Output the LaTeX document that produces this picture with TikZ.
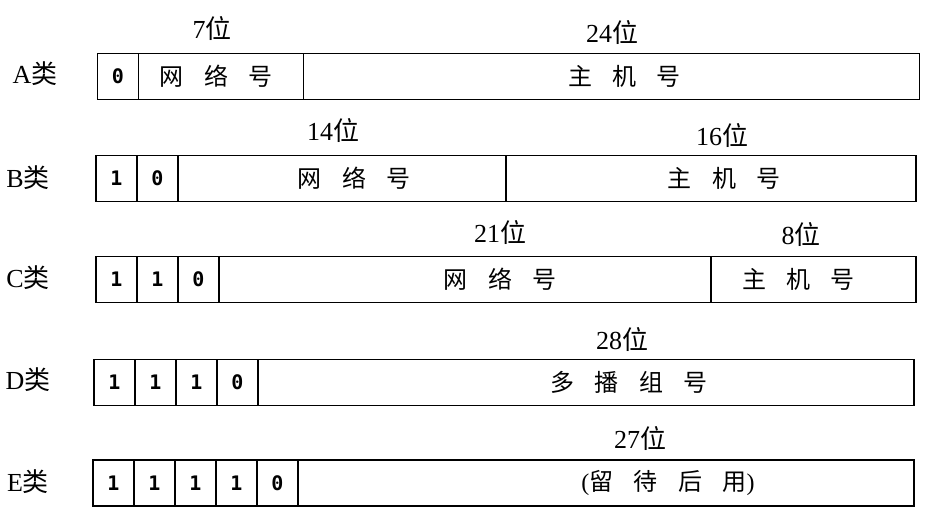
\documentclass[tikz,border=0pt]{standalone}
\usepackage{fontspec}
\setmainfont{Liberation Serif}
\newfontfamily\cjk{Noto Sans CJK SC}
\newfontfamily\bitmono{DejaVu Sans Mono}
\usetikzlibrary{positioning}

\newcommand{\zh}[1]{{\cjk #1}}
\newcommand{\gap}{\hspace{0.85em}}

\begin{document}
\begin{tikzpicture}[x=1pt,y=-1pt,node distance=0pt,
    cell/.style={draw, line width=1.9pt, minimum width=41pt, minimum height=46pt,
      inner sep=0pt, outer sep=0pt, font=\bitmono\bfseries\fontsize{20}{20}\selectfont},
    field/.style={cell, minimum width=#1},
    cls/.style={font=\fontsize{26}{26}\selectfont},
    bits/.style={font=\fontsize{26}{26}\selectfont},
    part/.style={font=\fontsize{24}{24}\selectfont}]
  \useasboundingbox (0,0) rectangle (928,528);

  % class A
  \node[cls] (A) at (35,74) {A\zh{类}};
  \node[cell] (a1) at (118,76.5) {0};
  \node[field=165pt, right=of a1] (a-net) {};
  \node[field=616pt, right=of a-net] (a-host) {};
  \node[part] at ([xshift=-5pt]a-net.center) {\zh{网\gap 络\gap 号}};
  \node[part] at ([xshift=13pt]a-host.center) {\zh{主\gap 机\gap 号}};
  \node[bits] at (212,28) {7\zh{位}};
  \node[bits] at (612,32) {24\zh{位}};

  % class B
  \node[cls] (B) at (28,178) {B\zh{类}};
  \node[cell] (b1) at (116.5,178.5) {1};
  \node[cell, right=of b1] (b2) {0};
  \node[field=328pt, right=of b2] (b-net) {};
  \node[field=410pt, right=of b-net] (b-host) {};
  \node[part] at ([xshift=12pt]b-net.center) {\zh{网\gap 络\gap 号}};
  \node[part] at ([xshift=13pt]b-host.center) {\zh{主\gap 机\gap 号}};
  \node[bits] at (333,130) {14\zh{位}};
  \node[bits] at (722,135) {16\zh{位}};

  % class C
  \node[cls] (C) at (28,278) {C\zh{类}};
  \node[cell] (c1) at (116.5,279.5) {1};
  \node[cell, right=of c1] (c2) {1};
  \node[cell, right=of c2] (c3) {0};
  \node[field=492pt, right=of c3] (c-net) {};
  \node[field=205pt, right=of c-net] (c-host) {};
  \node[part] at ([xshift=35pt]c-net.center) {\zh{网\gap 络\gap 号}};
  \node[part] at ([xshift=-15pt]c-host.center) {\zh{主\gap 机\gap 号}};
  \node[bits] at (500,232) {21\zh{位}};
  \node[bits] at (801,234) {8\zh{位}};

  % class D
  \node[cls] (D) at (28,380) {D\zh{类}};
  \node[cell] (d1) at (114.5,382.5) {1};
  \node[cell, right=of d1] (d2) {1};
  \node[cell, right=of d2] (d3) {1};
  \node[cell, right=of d3] (d4) {0};
  \node[field=656pt, right=of d4] (d-mc) {};
  \node[part] at ([xshift=43pt]d-mc.center) {\zh{多\gap 播\gap 组\gap 号}};
  \node[bits] at (622,339) {28\zh{位}};

  % class E
  \node[cls] (E) at (28,482) {E\zh{类}};
  \node[cell] (e1) at (113.5,483) {1};
  \node[cell, right=of e1] (e2) {1};
  \node[cell, right=of e2] (e3) {1};
  \node[cell, right=of e3] (e4) {1};
  \node[cell, right=of e4] (e5) {0};
  \node[field=616pt, right=of e5] (e-rsv) {};
  \node[part] at ([xshift=62pt]e-rsv.center) {(\zh{留\gap 待\gap 后\gap 用})};
  \node[bits] at (640,438) {27\zh{位}};
\end{tikzpicture}
\end{document}
